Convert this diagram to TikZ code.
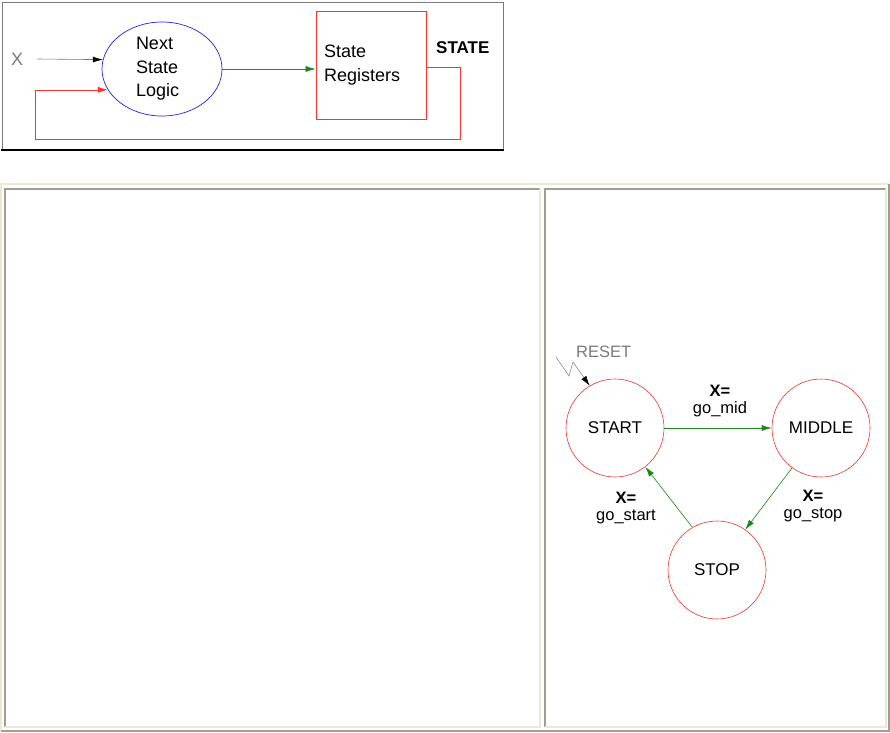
\documentclass[tikz,border=0pt]{standalone}
\usepackage{fontspec}
\setmainfont{Liberation Sans}
\usepackage{xcolor}
\usepackage{tikz}
\usetikzlibrary{arrows.meta,positioning,shapes.geometric,calc}
\definecolor{fsmred}{HTML}{FF3030}
\definecolor{fsmblue}{HTML}{2020FF}
\definecolor{fsmgreen}{HTML}{1A8A1A}
\definecolor{fsmgray}{HTML}{7A7A7A}
\definecolor{tblight}{HTML}{ECE9D8}
\definecolor{tbdark}{HTML}{A09F94}
\tikzset{
  lbl/.style={inner sep=0pt,font=\fontsize{18}{23.5}\selectfont,align=left},
  logic/.style={ellipse,draw=fsmblue,line width=0.7pt,minimum width=120pt,minimum height=94pt,inner sep=0pt,lbl,text width=52pt},
  regbox/.style={rectangle,draw=fsmred,line width=0.7pt,minimum width=110pt,minimum height=108pt,lbl,text width=94pt},
  state/.style={circle,draw=fsmred,line width=0.6pt,minimum size=98pt,inner sep=0pt,font=\fontsize{17}{19}\selectfont},
  cond/.style={inner sep=0pt,align=center,font=\fontsize{16.5}{17}\selectfont},
  ar/.style={line width=0.6pt},
  garr/.style={ar,draw=fsmgreen,-{Latex[length=10pt,width=6pt,fsmgreen]}},
  rarr/.style={ar,draw=fsmred,-{Latex[length=10pt,width=6pt,fsmred]}},
  karr/.style={ar,draw=fsmgray,-{Latex[length=10pt,width=6pt,black]}},
}
\begin{document}
\begin{tikzpicture}[x=1pt,y=-1pt]
  \useasboundingbox (0,0) rectangle (890,732);
  % top block diagram
  \draw[fsmgray,line width=0.5pt] (2,2) rectangle (503,149);
  \draw[black,line width=2pt] (1,150) -- (504,150);
  \node[logic] (nsl) at (162,69) {Next\\State\\Logic};
  \node[regbox] (reg) at (371,65) {State\\Registers};
  \node[lbl,font=\fontsize{17}{20}\selectfont\bfseries,anchor=west] (st) at (436,48) {STATE};
  \node[lbl,text=fsmgray,anchor=west] (xin) at (11,59) {X};
  \draw[karr] ([xshift=14pt]xin.east) -- (nsl.171);
  \draw[garr] (nsl.east) -- (reg.west |- nsl.east);
  \draw[rarr] ([yshift=-2pt]reg.east) -- (460,67) |- (35,139) |- (nsl.201);
  % table frame
  \draw[tblight,line width=1.2pt] (1,731) -- (1,184) -- (889,184);
  \draw[tbdark,line width=1.2pt] (1,731) -- (889,731) -- (889,184);
  \foreach \xa/\xb in {5/540,545/886}{
    \draw[tbdark,line width=1.2pt] (\xa,727) -- (\xa,189) -- (\xb,189);
    \draw[tblight,line width=1.2pt] (\xa,727) -- (\xb,727) -- (\xb,189);
  }
  % state machine
  \node[state] (start) at (615,428) {START};
  \node[state] (middle) at (821,428) {MIDDLE};
  \node[state] (stop) at (717,570) {STOP};
  \draw[garr] (start.east) -- (middle.west);
  \draw[garr] (middle.234) -- (stop.55);
  \draw[garr] (stop.120) -- (start.308);
  \node[cond] (c1) at (720,401) {\textbf{X=}\\go\_mid};
  \node[cond] (c2) at (813,506) {\textbf{X=}\\go\_stop};
  \node[cond] (c3) at (626,508) {\textbf{X=}\\go\_start};
  \node[cond,text=fsmgray,anchor=west] (rst) at (576,352) {RESET};
  \coordinate (zz) at (556,357);
  \draw[karr,line width=0.5pt] (zz) -- (569,376) -- (573,362) -- (start.121);
\end{tikzpicture}
\end{document}
